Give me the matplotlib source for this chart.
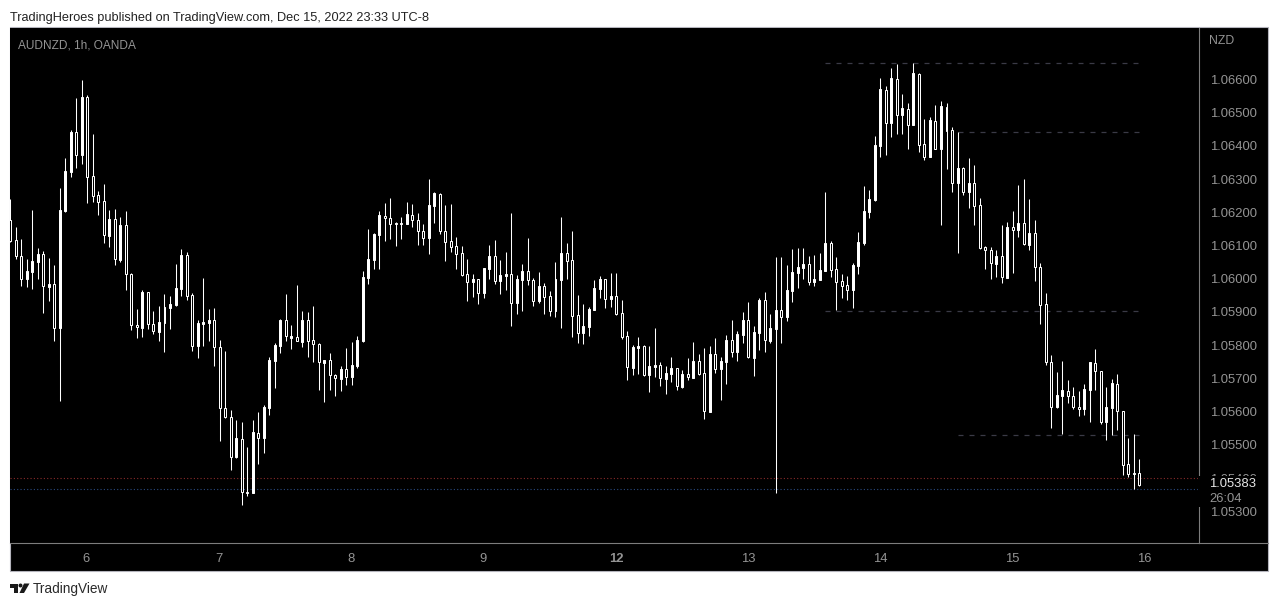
#!/usr/bin/env python3
"""AUDNZD 1h candles, black TradingView style snapshot. Writes out.png"""
import matplotlib
matplotlib.use('Agg')
import matplotlib.pyplot as plt
from matplotlib.patches import Rectangle, Polygon
from matplotlib.lines import Line2D
from matplotlib.transforms import ScaledTranslation
import numpy as np

W, H = 1279, 606

# prices in 1e-5 units
opens = [
    106179,106119,106071,106001,106024,106054,106078,105979,105987,105854,
    106207,106324,106444,106375,106549,106311,106254,106236,106132,106182,
    106060,106164,106017,105864,105856,105963,105867,105844,105871,105916,
    105925,105973,106075,105954,105799,105868,105871,105879,105798,105615,
    105588,105466,105522,105361,105358,105540,105523,105613,105754,105799,
    105879,105826,105828,105813,105878,105818,105807,105750,105758,105713,
    105702,105731,105708,105741,105815,106005,106059,106134,106193,106187,
    106171,106170,106167,106196,106181,106148,106125,106221,106259,106148,
    106115,106100,106079,106016,105993,106001,105960,106032,106070,105996,
    106011,106016,105930,105999,106025,105999,105936,105980,105951,105906,
    105999,106079,106058,105893,105840,105858,105909,105972,106001,105942,
    105950,105899,105830,105735,105795,105801,105714,105738,105743,105702,
    105717,105734,105678,105716,105705,105755,105719,105603,105776,105732,
    105753,105818,105783,105834,105878,105765,105840,105938,105816,105852,
    105908,105888,105966,106020,106035,106046,105993,105999,106026,106109,
    106031,105995,105983,105969,106041,106110,106204,106240,106402,106572,
    106471,106605,106495,106515,106465,106620,106407,106369,106479,106393,
    106521,106449,106291,106335,106264,106290,106224,106098,106089,106048,
    106071,106006,106158,106150,106170,106105,106140,106038,105927,105753,
    105616,105649,105666,105651,105618,105610,105667,105750,105726,105571,
    105613,105687,105606,105444,105418,105417,
]
highs = [
    106243,106159,106123,106063,106210,106096,106087,106066,106045,106276,
    106366,106450,106546,106600,106555,106438,106267,106288,106210,106213,
    106189,106207,106020,105913,105970,105964,105907,105922,105958,105952,
    106048,106093,106084,105960,105880,106006,105913,105916,105820,105784,
    105607,105577,105571,105496,105577,105601,105622,105766,105808,105883,
    105958,105865,105985,105906,105903,105921,105810,105759,105780,105717,
    105741,105795,105813,105831,106026,106152,106140,106206,106230,106245,
    106173,106188,106233,106227,106200,106167,106302,106263,106260,106224,
    106227,106128,106101,106062,106017,106002,106035,106104,106119,106059,
    106083,106200,106014,106047,106125,106005,106023,105990,105966,106053,
    106188,106110,106146,105954,105927,105918,105999,106011,106002,106020,
    106020,105939,105846,105804,105828,105804,105801,105855,105753,105741,
    105768,105735,105729,105765,105813,105777,105795,105801,105825,105768,
    105834,105879,105846,105903,105933,105861,105945,105963,105897,106068,
    106068,106044,106092,106095,106095,106071,106074,106080,106263,106116,
    106068,106017,106011,106050,106143,106282,106270,106432,106606,106582,
    106636,106648,106558,106531,106651,106621,106483,106489,106525,106537,
    106531,106459,106444,106339,106366,106345,106246,106102,106099,106090,
    106165,106174,106207,106285,106303,106243,106180,106051,105961,105772,
    105721,105754,105697,105676,105664,105685,105751,105790,105726,105676,
    105700,105715,105606,105523,105535,105460,
]
lows = [
    106112,106063,105982,105979,105973,106003,105901,105937,105814,105634,
    106204,106309,106336,106348,106231,106234,106195,106111,106099,106045,
    106054,105970,105850,105826,105829,105853,105838,105814,105781,105853,
    105922,105952,105940,105784,105763,105799,105814,105739,105514,105583,
    105427,105463,105322,105349,105358,105445,105478,105592,105673,105778,
    105814,105790,105814,105798,105768,105753,105669,105633,105669,105651,
    105666,105684,105684,105735,105813,105987,106032,106032,106116,106122,
    106101,106122,106167,106158,106104,106104,106077,106170,106137,106056,
    106083,106032,106011,105936,105948,105927,105945,106002,105987,105957,
    105969,105861,105897,105906,105984,105921,105930,105897,105891,105888,
    105855,106002,105828,105810,105807,105831,105909,105945,105915,105918,
    105894,105822,105699,105714,105717,105711,105663,105708,105681,105657,
    105693,105669,105675,105699,105705,105714,105582,105603,105720,105639,
    105687,105768,105756,105810,105765,105711,105789,105783,105810,105357,
    105810,105876,105933,105975,106002,105984,105981,105999,106026,106008,
    105909,105945,105939,105915,106017,106105,106186,106237,106369,106375,
    106429,106439,106438,106393,106465,106384,106360,106369,106393,106165,
    106333,106264,106081,106255,106216,106165,106093,106033,106003,106009,
    105991,106006,106021,106129,106105,106090,105997,105868,105742,105553,
    105613,105535,105628,105610,105589,105592,105571,105667,105565,105517,
    105532,105547,105412,105406,105370,105379,
]
closes = [
    106117,106070,106001,106027,106057,106078,105980,105988,105854,106210,
    106327,106444,106376,106549,106310,106253,106235,106134,106183,106061,
    106165,106016,105863,105857,105964,105866,105845,105874,105919,105928,
    105976,106075,105952,105800,105871,105874,105880,105797,105614,105586,
    105467,105523,105360,105358,105541,105524,105616,105757,105802,105880,
    105830,105832,105815,105879,105816,105805,105752,105759,105712,105703,
    105732,105708,105744,105819,106008,106062,106137,106194,106185,106168,
    106168,106167,106197,106180,106147,106125,106224,106260,106147,106114,
    106098,106077,106014,105994,106002,105960,106035,106071,105997,106014,
    106017,105931,106002,106026,105998,105936,105981,105949,105906,106002,
    106080,106057,105892,105841,105861,105912,105975,106002,105943,105951,
    105897,105828,105736,105798,105801,105714,105741,105744,105703,105720,
    105735,105679,105717,105706,105756,105717,105605,105777,105732,105756,
    105819,105783,105837,105879,105766,105843,105939,105817,105855,105909,
    105889,105969,106023,106038,106047,105994,106002,106029,106110,106030,
    105994,105982,105970,106044,106113,106207,106243,106405,106573,106472,
    106606,106496,106516,106466,106621,106406,106370,106480,106394,106522,
    106448,106292,106336,106265,106291,106223,106096,106089,106049,106072,
    106007,106159,106151,106171,106106,106141,106037,105925,105751,105617,
    105652,105667,105650,105617,105611,105670,105751,105725,105571,105616,
    105688,105605,105443,105416,105415,105383,
]

price_ticks = [1.053 + 0.001 * i for i in range(14)]
day_pos = [13.75, 37.8, 61.85, 85.85, 110, 134, 158, 182, 206]
day_labels = ['6', '7', '8', '9', '12', '13', '14', '15', '16']

# dashed levels: price, first bar, last bar
level_prices = [1.06651, 1.06444, 1.05907, 1.05534]
level_start = [148, 172, 148, 172]
level_end = [205, 205, 205, 205]
ask_price = 1.05402
bid_price = 1.05369
last_price = '1.05383'

GREY = '#949494'
FONT = 'Liberation Sans'


def fx(px):
    return px / W


def fy(py):
    return 1 - py / H


def price_of(py):
    # two known labels: 1.06600 at y=80, 1.05300 at y=512
    return 1.066 - (py - 80.3) * 0.013 / (512.3 - 80.3)


def main():
    plt.rcParams['font.family'] = FONT
    fig = plt.figure(figsize=(W / 100, H / 100), dpi=100, facecolor='white')

    # black panel with its thin border
    fig.patches.append(Rectangle((fx(10), fy(570.5)), fx(1258), 543.5 / H, transform=fig.transFigure,
                                 facecolor='black', edgecolor='#b4b4bc', linewidth=0.8, zorder=-1))

    ax = fig.add_axes([fx(10), fy(543), fx(1189), (543 - 27.5) / H], facecolor='black')
    ax.set_xlim(-0.054, 215.85)
    ax.set_ylim(price_of(543), price_of(27.5))

    op = np.array(opens) / 1e5
    hi = np.array(highs) / 1e5
    lo = np.array(lows) / 1e5
    cl = np.array(closes) / 1e5
    x = np.arange(len(op))
    up = cl >= op

    ax.vlines(x, lo, hi, color='white', linewidth=0.75, zorder=3)
    ax.bar(x, np.abs(cl - op), bottom=np.minimum(op, cl), width=0.36,
           facecolor=['white' if u else 'black' for u in up],
           edgecolor='white', linewidth=0.72, zorder=4)

    for p, a, b in zip(level_prices, level_start, level_end):
        ax.hlines(p, a, b, color='#3a3a46', linewidth=0.9, linestyle=(0, (4, 4.8)), zorder=2)
    ax.axhline(ask_price, color='#8a2a2a', linewidth=0.8, linestyle=(0, (1, 2)), zorder=2)
    ax.axhline(bid_price, color='#2a4a80', linewidth=0.8, linestyle=(0, (1, 2)), zorder=2)

    ax.yaxis.tick_right()
    ax.set_yticks(price_ticks)
    ax.set_yticklabels(['%.5f' % t for t in price_ticks], fontsize=9.4, color=GREY)
    ax.tick_params(axis='y', length=0, pad=7.8)
    nudge = ScaledTranslation(0, 0.7 / 72, fig.dpi_scale_trans)
    for lab in ax.get_yticklabels():
        lab.set_transform(lab.get_transform() + nudge)
    ax.set_xticks(day_pos)
    ax.set_xticklabels(day_labels, fontsize=9.4, color=GREY)
    ax.get_xticklabels()[4].set_fontweight('bold')
    ax.tick_params(axis='x', length=0, pad=7.5)
    for name, sp in ax.spines.items():
        sp.set_visible(name in ('right', 'bottom'))
        sp.set_color('#7d7d7d')
        sp.set_linewidth(0.8)

    # time axis rule runs on to the panel edge
    fig.add_artist(Line2D([fx(1199), fx(1268)], [fy(543), fy(543)], color='#7d7d7d', linewidth=0.8, zorder=1))

    # box of the last price, hides a scale label and the scale rule
    fig.patches.append(Rectangle((fx(1198), fy(507)), fx(69), 31 / H, transform=fig.transFigure,
                                 facecolor='black', edgecolor='none', zorder=2))
    fig.text(fx(1209.5), fy(484.3), last_price, color='#e6e6e6', fontsize=9.4, va='center')
    fig.text(fx(1209.5), fy(498.5), '26:04', color=GREY, fontsize=9.4, va='center')
    fig.text(fx(1209), fy(41.5), 'NZD', color=GREY, fontsize=8.8, va='center')

    fig.text(fx(18), fy(45), 'AUDNZD, 1h, OANDA', color=GREY, fontsize=8.6, va='center')
    fig.text(fx(10), fy(18), 'TradingHeroes published on TradingView.com, Dec 15, 2022 23:33 UTC-8',
             color='#222222', fontsize=9.18, va='center')
    fig.text(fx(33), fy(589), 'TradingView', color='#2a2a2a', fontsize=9.8, va='center')

    # logo
    tf = fig.transFigure
    logo = [[(10, 583.5), (18, 583.5), (18, 593), (14, 593), (14, 588), (10, 588)],
            [(24, 583.5), (29.5, 583.5), (24, 593), (19.5, 593)]]
    for pts in logo:
        fig.patches.append(Polygon([(fx(a), fy(b)) for a, b in pts], transform=tf,
                                   facecolor='#1a1a1a', edgecolor='none', zorder=2))
    fig.patches.append(Polygon([(fx(20.5 + 2 * np.cos(t)), fy(585.5 + 2 * np.sin(t)))
                                for t in np.linspace(0, 2 * np.pi, 24)], transform=tf,
                               facecolor='#1a1a1a', edgecolor='none', zorder=2))

    fig.savefig('out.png', dpi=100)


if __name__ == '__main__':
    main()
